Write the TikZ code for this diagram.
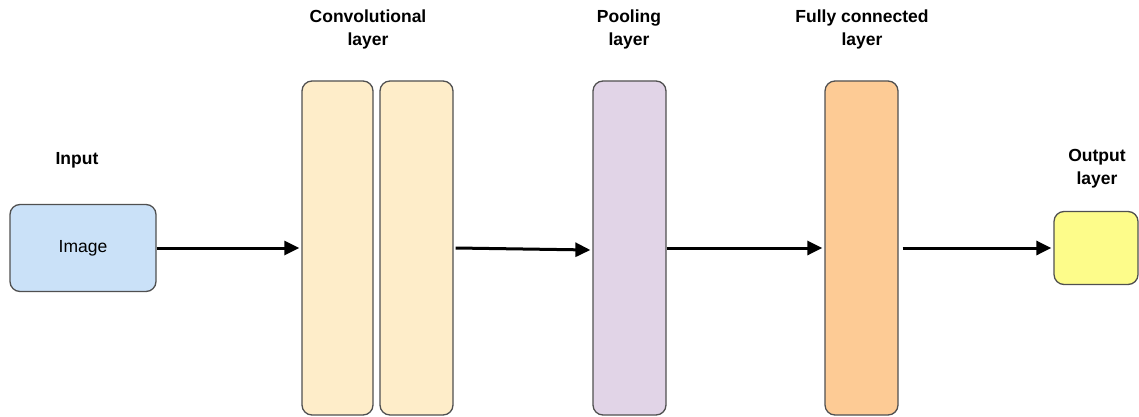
\documentclass[tikz,border=0pt]{standalone}
\usepackage{fontspec}
\setmainfont{Liberation Sans}
\usetikzlibrary{arrows.meta}
\definecolor{imgfill}{HTML}{CAE1F8}
\definecolor{convfill}{HTML}{FEEDC9}
\definecolor{poolfill}{HTML}{E1D4E7}
\definecolor{fcfill}{HTML}{FDCB95}
\definecolor{outfill}{HTML}{FDFC8A}
\definecolor{edge}{HTML}{505050}
\begin{document}
\begin{tikzpicture}[x=1pt,y=-1pt,
  layer/.style={draw=edge, line width=1.3pt, rounded corners=10pt, inner sep=0pt,
    font=\fontsize{17.5}{20}\selectfont},
  tall/.style={layer, minimum height=334pt},
  title/.style={font=\fontsize{17.5}{23}\selectfont\bfseries, align=center, text=black},
  link/.style={line width=3pt, -{Triangle[length=15pt,width=14pt]}}]
\useasboundingbox (0,0) rectangle (1139,417);
% layer boxes
\node[layer, fill=imgfill, minimum width=146pt, minimum height=87pt] (img) at (83,248) {Image};
\node[tall, fill=convfill, minimum width=71pt] (conv1) at (337.5,248) {};
\node[tall, fill=convfill, minimum width=73pt] (conv2) at (416.5,248) {};
\node[tall, fill=poolfill, minimum width=73pt] (pool) at (629.5,248) {};
\node[tall, fill=fcfill, minimum width=73pt] (fc) at (861.5,248) {};
\node[layer, fill=outfill, minimum width=84pt, minimum height=73pt] (out) at (1096,248) {};
% titles
\node[title] (tin) at (77,160) {Input};
\node[title] (tconv) at (368,29.5) {Convolutional\\layer};
\node[title] (tpool) at (629,29.5) {Pooling\\layer};
\node[title] (tfc) at (862,29.5) {Fully connected\\layer};
\node[title] (tout) at (1097,168.5) {Output\\layer};
% arrows
\draw[link] (img.east) -- ([xshift=-2pt]conv1.west);
\draw[link] ([xshift=2pt]conv2.east) -- ([xshift=-2pt,yshift=-2pt]pool.west);
\draw[link] (pool.east) -- ([xshift=-2pt]fc.west);
\draw[link] ([xshift=4pt]fc.east) -- ([xshift=-2pt]out.west);
\end{tikzpicture}
\end{document}
